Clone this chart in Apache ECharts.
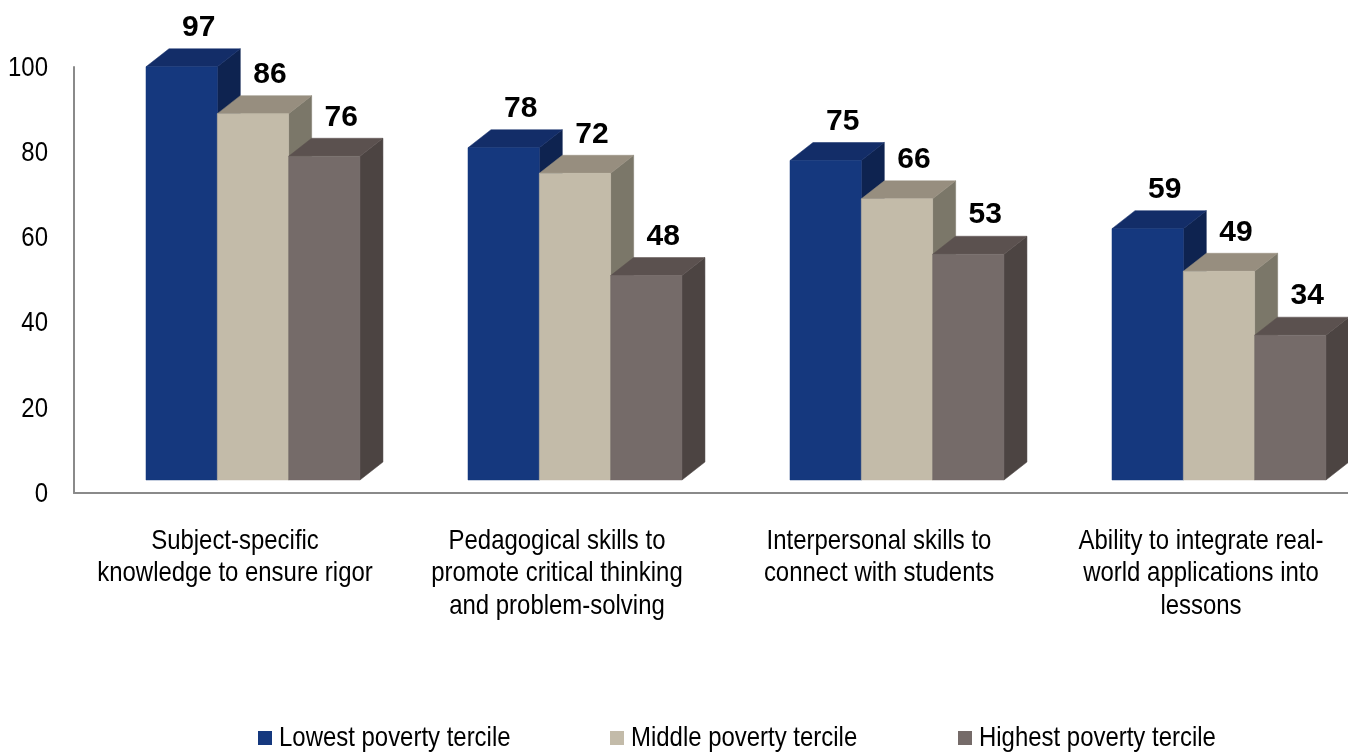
<!DOCTYPE html>
<html>
<head>
<meta charset="utf-8">
<script src="https://cdn.jsdelivr.net/npm/echarts@6/dist/echarts.min.js"></script>
<style>
  html, body { margin: 0; padding: 0; background: #ffffff; }
  #chart { width: 1348px; height: 752px; }
</style>
</head>
<body>
<div id="chart"></div>
<script>
// Share of teachers reporting each skill, by school poverty tercile
const categories = [
  'Subject-specific\nknowledge to ensure rigor',
  'Pedagogical skills to\npromote critical thinking\nand problem-solving',
  'Interpersonal skills to\nconnect with students',
  'Ability to integrate real-\nworld applications into\nlessons'
];
const seriesNames = ['Lowest poverty tercile', 'Middle poverty tercile', 'Highest poverty tercile'];
const lowest = [97, 78, 75, 59];
const middle = [86, 72, 66, 49];
const highest = [76, 48, 53, 34];
const yTickValues = [0, 20, 40, 60, 80, 100];

// face colours per series: front, top, side
const palette = [
  { front: '#15387e', top: '#132d68', side: '#0e2350' },
  { front: '#c3bba9', top: '#978e7f', side: '#7b7769' },
  { front: '#756b69', top: '#5b514f', side: '#4c4442' }
];

const FONT = '"Liberation Sans", Arial, sans-serif';
const TEXT_PX = 28;          // regular text size
const NARROW = 0.855;        // horizontal squeeze for the condensed text look

const DEPTH_X = 23, DEPTH_Y = -18, LIFT = 13;
const BAR_FRAC = 0.2215, START_FRAC = 0.2236;

function narrowText(x, y, text, align, vAlign, extraStyle) {
  return {
    type: 'text',
    x: x,
    y: y,
    scaleX: NARROW,
    style: Object.assign({
      x: 0, y: 0,
      text: text,
      align: align,
      verticalAlign: vAlign,
      font: TEXT_PX + 'px ' + FONT,
      fill: '#000000'
    }, extraStyle || {})
  };
}

// one 3D box per data point: side, top, front faces plus value label
function renderBox(params, api) {
  const idx = api.value(0);
  const val = api.value(1);
  const s = params.seriesIndex;
  const c = palette[s];
  const base = api.coord([idx, 0]);
  const topPt = api.coord([idx, val]);
  const bandW = api.size([1, 0])[0];
  const barW = bandW * BAR_FRAC;
  const x0 = base[0] - bandW / 2 + bandW * START_FRAC + s * barW;
  const x1 = x0 + barW;
  const yb = base[1] - LIFT;
  const yt = topPt[1] - LIFT;
  const poly = (pts, fill) => ({
    type: 'polygon',
    shape: { points: pts },
    style: { fill: fill, stroke: fill, lineWidth: 0.5 }
  });
  return {
    type: 'group',
    children: [
      poly([[x1, yb], [x1 + DEPTH_X, yb + DEPTH_Y], [x1 + DEPTH_X, yt + DEPTH_Y], [x1, yt]], c.side),
      poly([[x0, yt], [x0 + DEPTH_X, yt + DEPTH_Y], [x1 + DEPTH_X, yt + DEPTH_Y], [x1, yt]], c.top),
      poly([[x0, yb], [x1, yb], [x1, yt], [x0, yt]], c.front),
      {
        type: 'text',
        style: {
          text: String(val),
          x: (x0 + x1) / 2 + 17,
          y: yt - 39,
          align: 'center',
          verticalAlign: 'middle',
          font: 'bold 30px ' + FONT,
          fill: '#000000'
        }
      }
    ]
  };
}

// value-axis tick labels
function renderYLabel(params, api) {
  const v = api.value(1);
  const p = api.coord([0, v]);
  return narrowText(params.coordSys.x - 26, p[1] + 1, String(v), 'right', 'middle');
}

// category labels under the axis
function renderXLabel(params, api) {
  const i = api.value(0);
  const p = api.coord([i, 0]);
  return narrowText(p[0], p[1] + 32, categories[i], 'center', 'top', { lineHeight: 32.5 });
}

const seriesData = [lowest, middle, highest];

// legend: square swatch plus condensed label
const legendX = [258, 610, 958];
const legendGraphics = [];
seriesNames.forEach((name, s) => {
  legendGraphics.push({
    type: 'rect', left: legendX[s], top: 731,
    shape: { width: 14, height: 14 },
    style: { fill: palette[s].front }
  });
  legendGraphics.push(narrowText(legendX[s] + 21, 738.5, name, 'left', 'middle'));
});

const chart = echarts.init(document.getElementById('chart'), null, { renderer: 'canvas' });
chart.setOption({
  animation: false,
  backgroundColor: '#ffffff',
  grid: { left: 74, top: 67, width: 1288, height: 426, containLabel: false, outerBoundsMode: 'none' },
  xAxis: {
    type: 'category',
    data: categories,
    axisLine: { show: true, lineStyle: { color: '#8a8a8a', width: 2 } },
    axisTick: { show: false },
    axisLabel: { show: false },
    splitLine: { show: false }
  },
  yAxis: {
    type: 'value',
    min: 0,
    max: 100,
    interval: 20,
    axisLine: { show: true, lineStyle: { color: '#8a8a8a', width: 2 } },
    axisTick: { show: false },
    splitLine: { show: false },
    axisLabel: { show: false }
  },
  graphic: legendGraphics,
  series: seriesNames.map((name, s) => ({
    name: name,
    type: 'custom',
    renderItem: renderBox,
    itemStyle: { color: palette[s].front },
    encode: { x: 0, y: 1 },
    data: seriesData[s].map((v, i) => [i, v]),
    z: 2 + s
  })).concat([
    {
      name: 'yLabels',
      type: 'custom',
      renderItem: renderYLabel,
      encode: { x: 0, y: 1 },
      data: yTickValues.map(v => [0, v]),
      silent: true,
      z: 1
    },
    {
      name: 'xLabels',
      type: 'custom',
      renderItem: renderXLabel,
      encode: { x: 0, y: 1 },
      data: categories.map((c, i) => [i, 0]),
      silent: true,
      z: 1
    }
  ])
});
</script>
</body>
</html>
